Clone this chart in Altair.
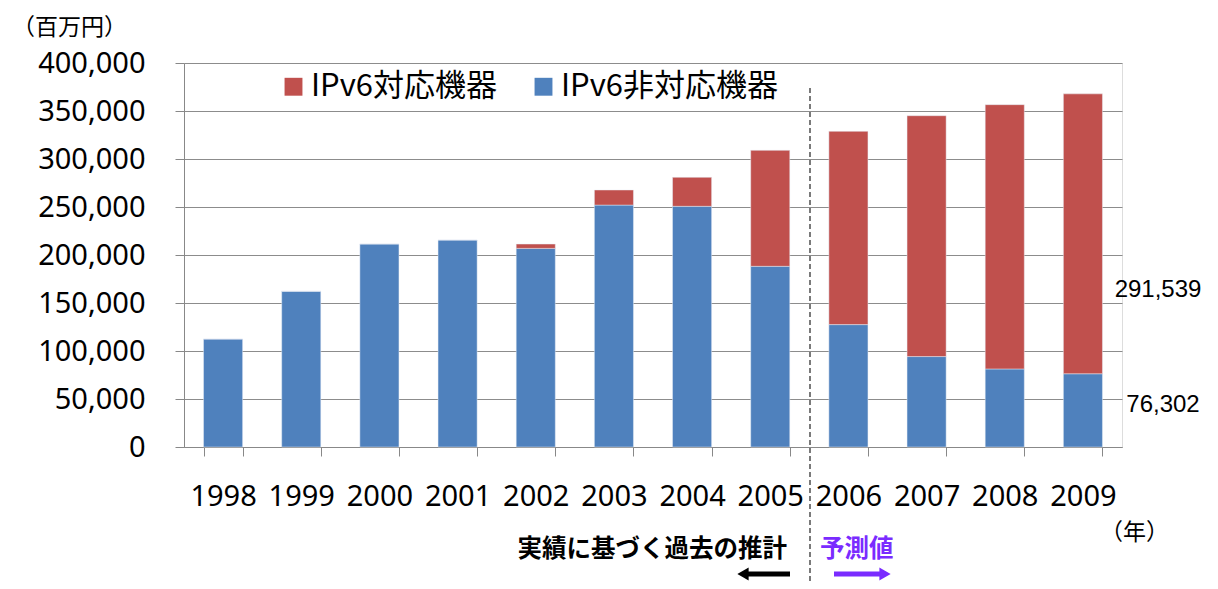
import altair as alt
import pandas as pd

years = ["1998", "1999", "2000", "2001", "2002", "2003", "2004", "2005",
         "2006", "2007", "2008", "2009"]
non_ipv6 = [112500, 162200, 211500, 215600, 206900, 252000, 250700, 188200,
            127500, 94200, 81300, 76302]
ipv6 = [0, 0, 0, 0, 4500, 15700, 30200, 120800,
        201300, 250900, 275300, 291539]
series_names = ["IPv6対応機器", "IPv6非対応機器"]
series_colors = ["#C0504D", "#4F81BD"]
y_ticks = [0, 50000, 100000, 150000, 200000, 250000, 300000, 350000, 400000]

rows = []
for i, yr in enumerate(years):
    rows.append({"year": yr, "series": series_names[1], "value": non_ipv6[i], "ord": 0})
    rows.append({"year": yr, "series": series_names[0], "value": ipv6[i], "ord": 1})
df = pd.DataFrame(rows)

NUMFONT = "Noto Sans"
JPFONT = "Noto Sans CJK JP"
W, H = 938, 384

bars = alt.Chart(df).mark_bar(stroke="#E8EEF6", strokeWidth=0.8, strokeOpacity=0.6).encode(
    x=alt.X("year:N", sort=years,
            scale=alt.Scale(paddingInner=0.5, paddingOuter=0.25),
            axis=alt.Axis(title=None, labelAngle=0, tickBand="extent",
                          labelFont=NUMFONT, labelFontSize=29, labelColor="#000000",
                          labelPadding=26, tickSize=9, tickColor="#888888",
                          domainColor="#888888", grid=False)),
    y=alt.Y("value:Q", stack="zero",
            scale=alt.Scale(domain=[0, 400000], nice=False),
            axis=alt.Axis(title=None, values=y_ticks, format=",.0f",
                          labelFont=NUMFONT, labelFontSize=29, labelColor="#000000",
                          labelPadding=30, tickSize=9, tickColor="#888888",
                          domainColor="#888888", grid=True, gridColor="#8C8C8C",
                          gridWidth=1.2, labelLimit=300)),
    color=alt.Color("series:N",
                    scale=alt.Scale(domain=series_names, range=series_colors),
                    legend=alt.Legend(title=None, orient="none", legendX=94, legendY=8,
                                      direction="horizontal", symbolType="square",
                                      symbolSize=320, symbolStrokeWidth=0,
                                      labelFont=JPFONT, labelFontSize=31,
                                      labelColor="#000000", columnPadding=30,
                                      labelOffset=2, labelLimit=400)),
    order=alt.Order("ord:Q"),
)

divider = alt.Chart(pd.DataFrame({"a": [0]})).mark_rule(
    color="#333333", strokeDash=[5, 3], strokeWidth=1.3
).encode(x=alt.value(626), y=alt.value(25), y2=alt.value(520))

def label(txt, x, y, size=22, font=NUMFONT, color="#000000", align="left", weight="normal"):
    return alt.Chart(pd.DataFrame({"t": [txt]})).mark_text(
        align=align, baseline="middle", fontSize=size, font=font, color=color,
        fontWeight=weight
    ).encode(text="t:N", x=alt.value(x), y=alt.value(y))

lab_ipv6 = label(f"{ipv6[-1]:,}", 974, 227, size=24, font="Liberation Sans", align="center")
lab_non = label(f"{non_ipv6[-1]:,}", 979, 342, size=24, font="Liberation Sans", align="center")
unit = label("（百万円）", -172, -35, size=23, font=JPFONT)
year_unit = label("（年）", 916, 470, size=23, font=JPFONT)
past = label("実績に基づく過去の推計", 603, 487, size=24.5, font=JPFONT, align="right", weight="bold")
future = label("予測値", 636, 487, size=24.5, font=JPFONT, color="#7A2BFF", weight="bold")

ARROW_Y = 511
black_shaft = alt.Chart(pd.DataFrame({"a": [0]})).mark_rule(color="#000000", strokeWidth=5).encode(
    x=alt.value(562), x2=alt.value(606), y=alt.value(ARROW_Y))
black_head = alt.Chart(pd.DataFrame({"a": [0]})).mark_point(
    shape="triangle-left", filled=True, color="#000000", size=170, opacity=1).encode(
    x=alt.value(559), y=alt.value(ARROW_Y))
purple_shaft = alt.Chart(pd.DataFrame({"a": [0]})).mark_rule(color="#7A2BFF", strokeWidth=5).encode(
    x=alt.value(650), x2=alt.value(698), y=alt.value(ARROW_Y))
purple_head = alt.Chart(pd.DataFrame({"a": [0]})).mark_point(
    shape="triangle-right", filled=True, color="#7A2BFF", size=170, opacity=1).encode(
    x=alt.value(701), y=alt.value(ARROW_Y))

chart = alt.layer(
    bars, divider, lab_ipv6, lab_non, unit, year_unit, past, future,
    black_shaft, black_head, purple_shaft, purple_head
).properties(
    width=W, height=H,
    autosize=alt.AutoSizeParams(type="none"),
    padding={"left": 176, "top": 55, "right": 86, "bottom": 134},
).configure_view(stroke=None).configure(background="#FFFFFF")

chart.save("out.html", embed_options={"renderer": "svg", "actions": False})
